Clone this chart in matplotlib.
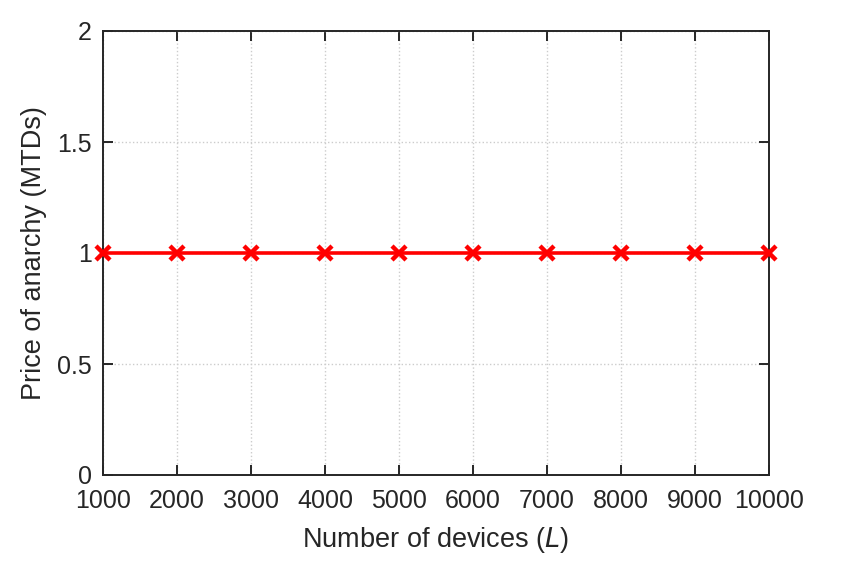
import numpy as np
import matplotlib.pyplot as plt

plt.rcParams['font.family'] = ['Liberation Sans', 'DejaVu Sans']

devices = [1000, 2000, 3000, 4000, 5000, 6000, 7000, 8000, 9000, 10000]
poa = [1, 1, 1, 1, 1, 1, 1, 1, 1, 1]
yticks = [0, 0.5, 1, 1.5, 2]
ytick_labels = ['0', '0.5', '1', '1.5', '2']

fig = plt.figure(figsize=(8.61, 5.63), dpi=100)
ax = fig.add_axes([103 / 861, 1 - 475 / 563, 666 / 861, 444 / 563])

ax.plot(devices, poa, color='red', linewidth=2.6, marker='x',
        markersize=10.5, markeredgewidth=3.2, clip_on=False, zorder=5)

ax.set_xlim(1000, 10000)
ax.set_ylim(0, 2)
ax.set_xticks(devices)
ax.set_yticks(yticks)
ax.set_yticklabels(ytick_labels)
ax.grid(True, linestyle=':', color='#cccccc', linewidth=1)

ax.tick_params(direction='in', length=7, width=1.4, top=True, right=True,
               labelsize=18, colors='#262626')
ax.tick_params(axis='x', pad=10)
ax.tick_params(axis='y', pad=8)
for s in ax.spines.values():
    s.set_color('#262626')
    s.set_linewidth(1.4)

ax.set_xlabel('Number of devices ($\\mathit{L}$)', fontsize=19.5, color='#262626', labelpad=9)
ax.set_ylabel('Price of anarchy (MTDs)', fontsize=19.5, color='#262626', labelpad=7)

fig.savefig('out.png', dpi=100)
